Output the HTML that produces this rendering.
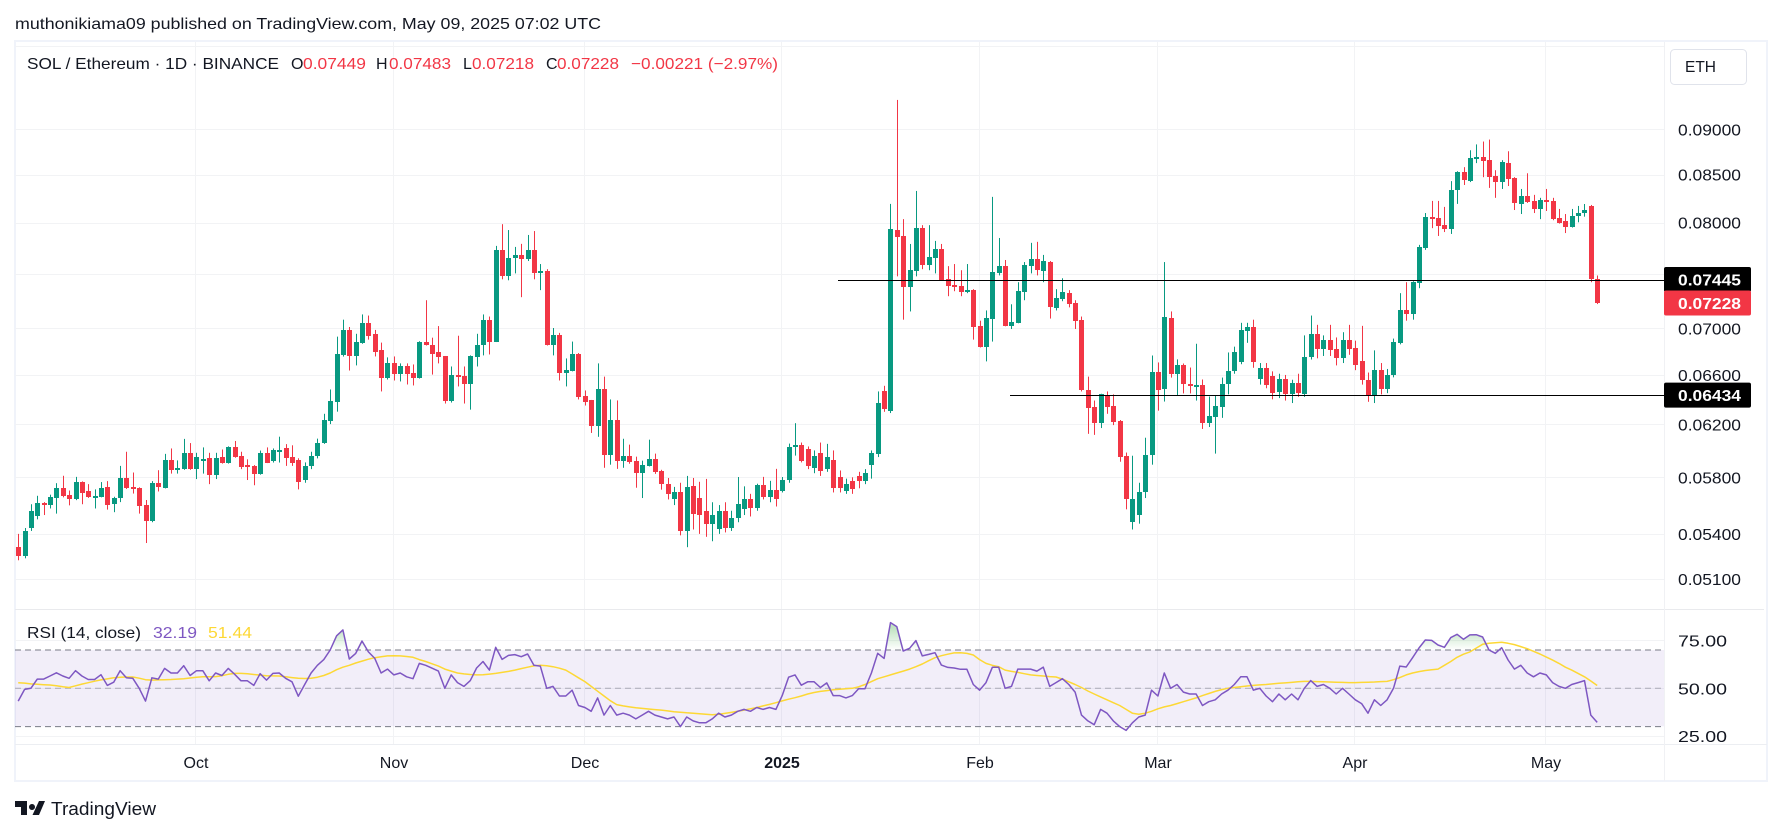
<!DOCTYPE html>
<html lang="en">
<head>
<meta charset="utf-8">
<title>SOL / Ethereum 1D chart</title>
<style>
html,body{margin:0;padding:0;background:#fff;}
svg{display:block;font-family:"Liberation Sans",sans-serif;}
</style>
</head>
<body>
<svg id="chart" xmlns="http://www.w3.org/2000/svg" width="1781" height="835" viewBox="0 0 1781 835">
  <defs>
    <clipPath id="clip-above-70"><rect x="15" y="600" width="1649" height="50"/></clipPath>
    <clipPath id="clip-below-30"><rect x="15" y="726.3" width="1649" height="20"/></clipPath>
    <linearGradient id="grad-ob" gradientUnits="userSpaceOnUse" x1="0" y1="628" x2="0" y2="650">
      <stop offset="0" stop-color="#4caf50" stop-opacity="0.35"/><stop offset="1" stop-color="#4caf50" stop-opacity="0"/>
    </linearGradient>
    <linearGradient id="grad-os" gradientUnits="userSpaceOnUse" x1="0" y1="726" x2="0" y2="740">
      <stop offset="0" stop-color="#ff5252" stop-opacity="0"/><stop offset="1" stop-color="#ff5252" stop-opacity="0.35"/>
    </linearGradient>
  </defs>
  <rect x="0" y="0" width="1781" height="835" fill="#fff"/>
  <text x="15" y="29" font-size="16" fill="#131722" textLength="586" lengthAdjust="spacingAndGlyphs">muthonikiama09 published on TradingView.com, May 09, 2025 07:02 UTC</text>
  <rect x="15" y="41" width="1752" height="740" fill="none" stroke="#f0f3fa" stroke-width="2"/>
  <g id="grid"></g>
  <rect x="15" y="650" width="1649" height="76.3" fill="#7e57c2" fill-opacity="0.1"/>
  <g id="rsi-guides"></g>
  <g id="candles"></g>
  <g id="levels"></g>
  <g id="rsi"></g>
  <rect x="15" y="744" width="1752" height="1" fill="#eceef2"/>
  <rect x="1664" y="42" width="1" height="739" fill="#f0f1f4"/>
  <g id="axis"></g>
  <g id="tags"></g>

  <g font-size="16">
    <text x="27" y="69" fill="#131722" textLength="252" lengthAdjust="spacingAndGlyphs">SOL / Ethereum · 1D · BINANCE</text>
    <text x="291" y="69" fill="#131722">O</text>
    <text x="303" y="69" fill="#f23645" textLength="63" lengthAdjust="spacingAndGlyphs">0.07449</text>
    <text x="376" y="69" fill="#131722">H</text>
    <text x="389" y="69" fill="#f23645" textLength="62" lengthAdjust="spacingAndGlyphs">0.07483</text>
    <text x="463" y="69" fill="#131722">L</text>
    <text x="472" y="69" fill="#f23645" textLength="62" lengthAdjust="spacingAndGlyphs">0.07218</text>
    <text x="546" y="69" fill="#131722">C</text>
    <text x="557" y="69" fill="#f23645" textLength="62" lengthAdjust="spacingAndGlyphs">0.07228</text>
    <text x="631" y="69" fill="#f23645" textLength="147" lengthAdjust="spacingAndGlyphs">−0.00221 (−2.97%)</text>
  </g>
  <g font-size="16">
    <text x="27" y="638" fill="#131722" textLength="114" lengthAdjust="spacingAndGlyphs">RSI (14, close)</text>
    <text x="153" y="638" fill="#7e57c2" textLength="44" lengthAdjust="spacingAndGlyphs">32.19</text>
    <text x="208" y="638" fill="#fdd835" textLength="44" lengthAdjust="spacingAndGlyphs">51.44</text>
  </g>
  <g>
    <rect x="1670.5" y="49.5" width="76" height="35" rx="4" fill="#fff" stroke="#e0e3eb"/>
    <text x="1685" y="72" font-size="16" fill="#131722" textLength="31" lengthAdjust="spacingAndGlyphs">ETH</text>
  </g>
  <g>
    <path d="M15 801h12v14h-6v-8h-6z M32 804a3 3 0 1 0 .01 0z M39 801h6l-6 14h-6.500z" fill="#131722"/>
    <text x="51" y="815" font-size="18" fill="#131722" textLength="105" lengthAdjust="spacingAndGlyphs">TradingView</text>
  </g>
</svg>
<script>
// Prices are in units of 0.00001 ETH.
var opens = [
5314,5251,5440,5520,5613,5598,5651,5719,5674,5644,
5765,5697,5661,5659,5727,5606,5651,5795,5727,5719,
5598,5490,5757,5724,5925,5852,5860,5982,5860,5936,
5941,5819,5950,5909,6023,5958,5892,5884,5827,5982,
5917,6004,6015,5950,5925,5780,5880,5960,6060,6227,
6382,6765,6986,6756,6875,7049,6952,6807,6578,6697,
6611,6671,6620,6578,6884,6858,6790,6756,6390,6603,
6594,6521,6748,6850,7077,6884,7729,7475,7650,7680,
7641,7729,7516,7523,6850,6943,6620,6637,6781,6423,
6391,6187,6480,5968,6235,5923,5961,5923,5832,5886,
5938,5848,5753,5640,5690,5420,5739,5650,5560,5470,
5430,5560,5440,5510,5570,5640,5580,5746,5660,5710,
5700,5781,6029,6044,6010,5870,5980,5860,5930,5800,
5700,5776,5810,5775,5890,5976,6464,6310,7925,7866,
7373,7523,7944,7582,7650,7738,7447,7392,7383,7327,
7346,7022,6833,7087,7503,7572,7022,7050,7327,7572,
7641,7523,7611,7179,7262,7318,7225,7077,6472,6341,
6211,6431,6350,6227,5961,5480,5530,5690,5968,6628,
6480,7096,6611,6680,6529,6510,6513,6211,6260,6341,
6521,6637,6710,6976,7012,6570,6660,6590,6460,6570,
6440,6530,6440,6750,6947,6818,6901,6818,6740,6901,
6827,6720,6560,6430,6640,6480,6600,6873,7161,7124,
7410,7748,8055,8045,7974,7935,8336,8525,8430,8667,
8689,8656,8482,8420,8624,8462,8191,8274,8222,8139,
8233,8222,8045,8014,7954,8066,8095,8165,7449];
var highs = [
5400,5440,5606,5666,5621,5674,5757,5811,5704,5803,
5770,5750,5712,5765,5772,5659,5884,5990,5835,5727,
5636,5772,5852,5974,6015,5925,6088,6056,5982,6023,
5982,5982,6007,6031,6072,5990,5933,5890,5999,6023,
6015,6105,6048,6039,5941,5910,5990,6090,6284,6480,
6927,7077,7012,6952,7124,7114,6986,6875,6748,6756,
6697,6697,6688,6887,7253,6918,7020,6760,6671,6935,
6671,6765,6952,7124,7105,7768,7984,7925,7758,7788,
7876,7915,7592,7543,7003,6960,6739,6884,6785,6472,
6395,6697,6586,6399,6391,6089,6044,5953,5923,6082,
5976,5855,5795,5730,5760,5810,5795,5767,5788,5620,
5600,5620,5560,5802,5734,5680,5753,5803,5774,5862,
5802,6052,6210,6060,6030,6000,6060,6050,6000,5850,
5790,5800,5840,5860,6000,6464,6510,8191,9340,8035,
7787,8326,7974,7974,7817,7787,7572,7592,7533,7592,
7355,7068,7160,8264,7846,7631,7216,7420,7611,7798,
7808,7680,7621,7355,7457,7346,7253,7105,6586,6390,
6445,6464,6440,6235,5984,5960,5760,6097,6764,6705,
7611,7151,6731,6696,6662,6865,6562,6423,6431,6578,
6790,6840,7049,7049,7077,6700,6700,6630,6610,6600,
6560,6610,6938,7114,7031,6938,7031,6920,6966,7031,
6892,7022,6620,6808,6700,6650,6910,7318,7420,7429,
7778,8097,8222,8222,8160,8430,8536,8580,8765,8830,
8862,8884,8547,8656,8754,8472,8347,8514,8285,8254,
8347,8254,8139,8087,8139,8170,8190,8180,7483];
var lows = [
5223,5236,5420,5500,5530,5576,5540,5655,5598,5635,
5606,5651,5576,5655,5568,5550,5621,5715,5682,5540,
5338,5480,5697,5719,5827,5827,5855,5855,5787,5827,
5750,5787,5901,5901,5945,5860,5780,5742,5819,5905,
5909,5909,5884,5884,5712,5760,5860,5940,6050,6203,
6301,6755,6637,6680,6865,6901,6756,6464,6562,6554,
6546,6521,6513,6570,6850,6603,6697,6366,6374,6505,
6366,6317,6671,6765,6773,6880,7447,7438,7503,7281,
7621,7447,7346,6850,6765,6554,6505,6630,6399,6350,
6134,6104,5870,5893,5862,5870,5900,5724,5650,5880,
5825,5710,5640,5600,5390,5310,5430,5400,5380,5350,
5400,5410,5420,5480,5530,5520,5560,5640,5620,5590,
5690,5760,5961,5910,5860,5830,5810,5840,5690,5690,
5680,5680,5720,5750,5790,5950,6300,6290,7475,7077,
7151,7475,7543,7533,7503,7435,7290,7336,7290,7318,
6901,6833,6714,6884,7484,7018,6994,7045,7253,7503,
7484,7420,7087,7160,7244,7188,6994,6464,6127,6119,
6172,6284,6195,5915,5570,5430,5470,5650,5893,6309,
6382,6578,6431,6448,6448,6390,6165,6180,5976,6252,
6440,6610,6690,6873,6660,6520,6490,6400,6410,6390,
6370,6420,6420,6730,6740,6760,6760,6680,6700,6770,
6640,6520,6380,6370,6440,6450,6580,6860,7068,7077,
7364,7729,7944,7866,7905,7886,8191,8389,8420,8624,
8472,8358,8254,8347,8378,8128,8087,8201,8097,8035,
8118,8024,7990,7895,7950,8003,8060,7420,7218];
var closes = [
5251,5420,5560,5613,5605,5659,5719,5666,5644,5765,
5689,5659,5664,5719,5598,5651,5795,5719,5722,5591,
5490,5757,5727,5925,5852,5868,5982,5860,5950,5939,
5819,5941,5909,6023,5950,5876,5887,5827,5982,5909,
6007,6007,5941,5909,5765,5880,5960,6060,6235,6390,
6773,6986,6756,6884,7049,6935,6798,6578,6697,6611,
6671,6611,6578,6884,6850,6781,6748,6390,6603,6586,
6521,6756,6858,7077,6884,7729,7475,7650,7680,7641,
7729,7503,7523,6858,6943,6620,6645,6781,6415,6382,
6187,6480,5968,6235,5923,5961,5915,5832,5893,5938,
5840,5753,5680,5690,5420,5732,5540,5530,5470,5530,
5560,5440,5510,5610,5640,5580,5746,5660,5710,5640,
5781,6029,6044,5923,5880,5960,5845,5950,5720,5720,
5750,5715,5770,5830,5980,6374,6325,7935,7856,7373,
7533,7944,7582,7660,7738,7438,7383,7386,7327,7346,
7012,6833,7096,7513,7572,7022,7059,7336,7582,7641,
7533,7621,7188,7272,7327,7216,7068,6472,6333,6211,
6440,6341,6219,5953,5640,5640,5690,5968,6628,6472,
7105,6611,6680,6521,6505,6516,6211,6268,6350,6521,
6637,6790,6986,7012,6705,6660,6520,6450,6570,6440,
6530,6450,6750,6947,6818,6901,6808,6740,6901,6818,
6680,6560,6430,6640,6480,6600,6883,7161,7124,7420,
7758,8055,8049,7964,7935,8336,8525,8441,8678,8689,
8645,8472,8420,8634,8451,8201,8274,8212,8139,8233,
8212,8035,7993,7954,8066,8097,8130,7449,7228];
var rsiValues = [
43.3,49.4,50,54.8,54.8,56.4,58.1,56.4,55.2,59.2,
56.4,54.6,54.6,57.1,51.5,53.2,59.2,55.5,55.2,50,
43.3,55.5,54.8,60.4,58,58,61.8,56.7,59.2,59.2,
53.9,58,56.7,60.4,57.3,53.9,53.9,51.5,57.6,54.3,
57.8,58,55.2,53.4,45.9,52,58,62,65,70,
77.4,80.5,65.3,68.2,74.7,69,65.6,58,60,57,
58,56,55,63,62,60.5,59,50,57,53,
51,54,60.6,64,59.5,71.4,65.1,67.2,67.6,66.5,
67.9,62,61.6,50,51,46,46,49,41,40,
38,45,36,41,36,37,36,34,36,38,
36,35,34,35,30,35,33,32,32,34,
37,35,36,38,39,38,40,39,40,39,
46.2,55.8,57,51.6,53.4,53.4,50.4,52.8,46.2,46.2,
45,46.2,49.8,49.8,58,68.3,65.6,84.3,82.2,69.5,
70.9,74.9,66.9,67.7,68.6,62.1,60.9,60.6,59.9,59.9,
52,49,53,61,61,50,51,60,60,60,
59,61,51,53,55,52,48,36,33,31,
39,37,33,30,28,32,35,36,49,46,
58,50,52,48,47,47,41,43,44,47,
49,52,56,56,49,50,46,43,47,44,
47,44,50,54,51,52,50,47,50,47,
44,42,37,44,41,44,50,61.6,61.1,66,
71,75.2,75,72.6,71.4,76.5,78.2,75.6,77.9,78,
76.8,70,68.3,71.2,64.8,60,62,58,56,58,
57,53,51,50,52,53,54,36,32.19];
var rsiMaValues = [
52.9,52.7,52.3,52.1,51.9,51.7,51.3,50.8,50.4,51.3,
52.2,52.9,53.7,54.4,54.9,55.5,55.8,55.9,55.9,55.3,
54.5,54.3,54.4,54.5,54.6,54.8,55,55.4,55.8,56,
56,56.1,56.6,57.3,57.8,57.8,57.6,57.2,56.9,56.6,
56.5,56.4,56,55.6,55.2,55.1,55.3,55.8,56.7,58,
59.7,61,62,63.2,64.2,65.2,66,66.5,66.9,67,
66.9,66.6,66.2,65,64,62.8,61.6,60,59,58,
57.5,57.2,57,57.1,57.4,57.8,58.3,58.8,59.5,60.3,
61,61.7,62,61.8,61.3,60.5,59.5,57.5,55.5,53.5,
51,48.5,46,43.5,41.5,40.8,40.3,39.8,39.5,39.2,
38.9,38.6,38.2,37.8,37.5,37.2,37,36.7,36.4,36.2,
36.4,36.9,37.4,38,38.6,39.3,40,40.8,41.6,42.5,
43.4,44.3,45.1,46,47,47.8,48.4,48.8,49.2,49.5,
49.8,50,50.8,52,53.5,55,56,57,58,59,
60,61.3,62.7,64.4,66,67,67.8,68.5,68.6,68.2,
67.4,65,63,62,61.3,59.5,58.8,58.3,57.6,57,
56.7,56.4,56.1,55.9,54.8,53.4,52,50.4,48.6,47,
45.5,44,42.5,41,39,37,36.4,37,38,39.3,
40.3,41,42,43,44,45,46.2,47.3,48.4,49.3,
50,50.4,50.8,51.2,51.5,51.8,52,52.3,52.6,52.8,
53.1,53.4,53.6,53.6,53.5,53.4,53.3,53.2,53.1,53,
53,53.1,53.2,53.3,53.5,53.6,54.5,55.6,57,58,
58.7,59.3,59.7,60,62,64,66.2,67.8,69,71,
73,73.5,73.8,74,73.5,72.8,71.8,70.7,69.3,67.9,
66.3,64.7,63,61,59.5,57.8,56,53.8,51.44];

var priceGrid = [10000,9000,8500,8000,7500,7000,6600,6200,5800,5400,5100];
var priceTickLabels = ["0.09000","0.08500","0.08000","0.07000","0.06600","0.06200","0.05800","0.05400","0.05100"];
var rsiTicks = [75,50,25];
var rsiTickLabels = ["75.00","50.00","25.00"];
var rsiGuideLevels = [70,50,30];
var monthLabels = ["Oct","Nov","Dec","2025","Feb","Mar","Apr","May"];
var monthCandleIndex = [28,59,89,120,151,179,210,240];
var levelPrices = [7445,6434];

(function(){
var NS = 'http://www.w3.org/2000/svg';
function xAt(i){ return 18.2 + 6.367 * i; }
function yPrice(p){ return 129.3 + 792 * Math.log(9000 / p); }
function yRsi(v){ return 650 + (70 - v) * 1.915; }
function make(tag, parent, props, content){
  var el = document.createElementNS(NS, tag);
  for (var k in props) el.setAttribute(k, props[k]);
  if (content !== undefined) el.textContent = content;
  parent.appendChild(el);
  return el;
}
function fmtPrice(p){ return (p / 100000).toFixed(5); }

var gridG = document.getElementById('grid');
priceGrid.forEach(function(p){
  var el = make('rect', gridG, {x:15, y:Math.round(yPrice(p)), width:1649, height:1, fill:'#f2f3f5'});
  
  
});
rsiTicks.forEach(function(v){
  var el = make('rect', gridG, {x:15, y:Math.round(yRsi(v)), width:1649, height:1, fill:'#f2f3f5'});
  
  
});
monthCandleIndex.forEach(function(i){
  var el = make('rect', gridG, {x:Math.round(xAt(i)) - 1, y:42, width:1, height:702, fill:'#f2f3f5'});
  
  
});
var sep = make('rect', gridG, {x:15, y:609, width:1749, height:1, fill:'#e9eaed'});



var guideG = document.getElementById('rsi-guides');
rsiGuideLevels.forEach(function(v){
  var mid = v === 50;
  var el = make('line', guideG, {x1:15, x2:1664, y1:yRsi(v), y2:yRsi(v), stroke:'#787b86', 'stroke-opacity':mid ? 0.55 : 1, 'stroke-width':1, 'stroke-dasharray':'6 4'});
  
  
});

var candleG = document.getElementById('candles');
for (var i = 0; i < closes.length; i++) {
  var up = closes[i] >= opens[i];
  var color = up ? '#089981' : '#f23645';
  var X = Math.round(xAt(i));
  var bodyTop = Math.round(yPrice(Math.max(opens[i], closes[i])));
  var bodyBottom = Math.round(yPrice(Math.min(opens[i], closes[i])));
  var wickTop = yPrice(highs[i]);
  var wickBottom = yPrice(lows[i]);
  var wick = make('rect', candleG, {x:X, y:wickTop, width:1, height:Math.max(1, wickBottom - wickTop), fill:color});
  
  
  var candleBody = make('rect', candleG, {x:X - 2, y:bodyTop, width:5, height:Math.max(2, bodyBottom - bodyTop), fill:color});
  
  
}

var levelG = document.getElementById('levels');
var levelStarts = [838, 1010];
levelPrices.forEach(function(p, k){
  var y = Math.round(yPrice(p));
  var el = make('rect', levelG, {x:levelStarts[k], y:y, width:1664 - levelStarts[k], height:1, fill:'#000'});
  
  
});

var rsiG = document.getElementById('rsi');
function linePoints(arr){
  return arr.map(function(v, i){ return xAt(i).toFixed(1) + ',' + yRsi(v).toFixed(1); }).join(' ');
}
var edge = xAt(0).toFixed(1) + ',';
var edgeR = xAt(rsiValues.length - 1).toFixed(1) + ',';
var areaOb = make('polygon', rsiG, {points:edge + yRsi(70) + ' ' + linePoints(rsiValues) + ' ' + edgeR + yRsi(70), fill:'url(#grad-ob)', 'clip-path':'url(#clip-above-70)'});


var areaOs = make('polygon', rsiG, {points:edge + yRsi(30) + ' ' + linePoints(rsiValues) + ' ' + edgeR + yRsi(30), fill:'url(#grad-os)', 'clip-path':'url(#clip-below-30)'});


var maLine = make('polyline', rsiG, {points:linePoints(rsiMaValues), fill:'none', stroke:'#fdd835', 'stroke-width':1.5, 'stroke-linejoin':'round'});


var rsiLine = make('polyline', rsiG, {points:linePoints(rsiValues), fill:'none', stroke:'#7e57c2', 'stroke-width':1.5, 'stroke-linejoin':'round'});



var axisG = document.getElementById('axis');
var labelledPrices = [9000,8500,8000,7000,6600,6200,5800,5400,5100];
priceTickLabels.forEach(function(label, k){
  var el = make('text', axisG, {x:1678, y:yPrice(labelledPrices[k]) + 6, 'font-size':16, fill:'#131722', textLength:63, lengthAdjust:'spacingAndGlyphs'}, label);
  
  
});
rsiTickLabels.forEach(function(label, k){
  var el = make('text', axisG, {x:1678, y:yRsi(rsiTicks[k]) + 6, 'font-size':16, fill:'#131722', textLength:49, lengthAdjust:'spacingAndGlyphs'}, label);
  
  
});
monthLabels.forEach(function(label, k){
  var isYear = label === '2025';
  var el = make('text', axisG, {x:Math.round(xAt(monthCandleIndex[k])), y:768, 'font-size':16, fill:'#131722', 'text-anchor':'middle', 'font-weight':isYear ? 'bold' : 'normal'}, label);
  
  
});

var tagG = document.getElementById('tags');
function addTag(p, fill){
  var y = yPrice(p);
  var box = make('rect', tagG, {x:1664, y:y - 12.5, width:87, height:25, rx:2, fill:fill});
  
  
  var t = make('text', tagG, {x:1678, y:y + 6, 'font-size':16, fill:'#fff', textLength:63, lengthAdjust:'spacingAndGlyphs', 'font-weight':'bold'}, fmtPrice(p));
  
  
}
addTag(levelPrices[0], '#000');
addTag(closes[closes.length - 1], '#f23645');
addTag(levelPrices[1], '#000');
})();
</script>
</body>
</html>
